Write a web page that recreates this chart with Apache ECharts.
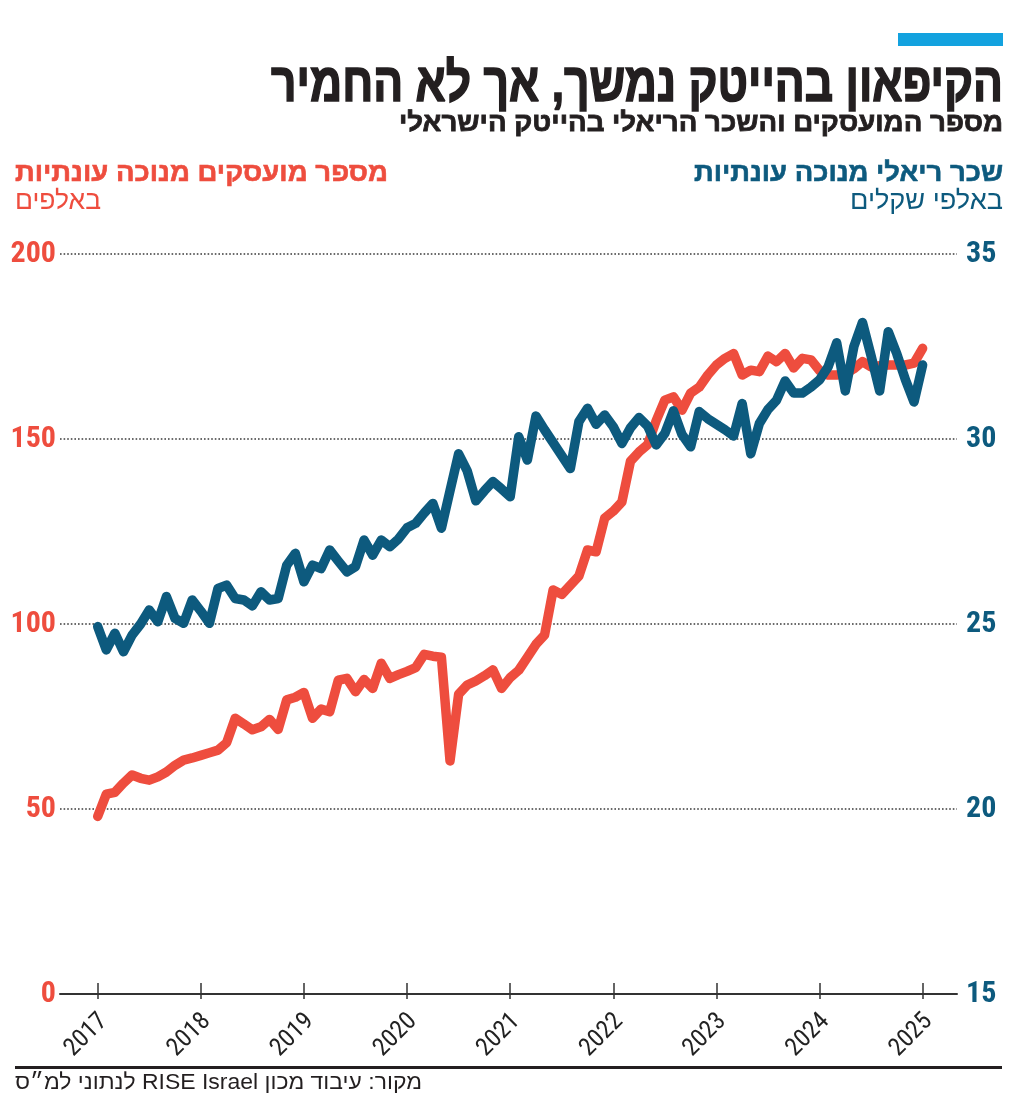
<!DOCTYPE html>
<html>
<head>
<meta charset="utf-8">
<script src="https://cdn.jsdelivr.net/npm/echarts@6/dist/echarts.min.js"></script>
<style>
  html, body { margin: 0; padding: 0; background: #ffffff; }
  #chart { width: 1024px; height: 1107px; }
</style>
</head>
<body>
<div id="chart"></div>
<script>
// ---------- data ----------
const startYear = 2017;
const tickYears = ['2017', '2018', '2019', '2020', '2021', '2022', '2023', '2024', '2025'];
// monthly, Jan 2017 .. Jan 2025 (seasonally adjusted)
const employees = [
  48, 54, 54.5, 57, 59.2, 58.3, 57.8, 58.7, 60, 61.8, 63.2, 63.8,
  64.5, 65.2, 65.9, 67.9, 74.5, 73, 71.4, 72.2, 74.2, 71.5, 79.5, 80.2,
  81.5, 74.5, 77, 76.3, 84.8, 85.3, 81.7, 85, 82.6, 89.4, 85.3, 86.3,
  87.2, 88.2, 91.8, 91.3, 91, 63, 81, 83.5, 84.6, 86, 87.6, 82.6,
  85.5, 87.5, 91, 94.5, 97, 109.2, 108, 110.5, 113, 120, 119.5, 128.6,
  130.5, 133, 144, 146.5, 148.5, 155, 160.5, 161.4, 157.8, 162.4, 164, 167.3,
  170, 171.8, 173.1, 167.3, 168.6, 168.2, 172.4, 170.9, 173.1, 169.2, 171.8, 171.4,
  168.5, 167.3, 167.3, 167.6, 169, 170.9, 169.5, 169.8, 170, 170, 170, 170.5,
  174.5
];
const wages = [
  24.93, 24.3, 24.75, 24.25, 24.7, 25.0, 25.38, 25.06, 25.74, 25.15, 25.02, 25.65,
  25.35, 25.02, 25.96, 26.05, 25.69, 25.65, 25.49, 25.87, 25.65, 25.69, 26.59, 26.91,
  26.14, 26.59, 26.5, 27.0, 26.7, 26.41, 26.55, 27.27, 26.86, 27.27, 27.09, 27.3,
  27.6, 27.72, 28.0, 28.26, 27.59, 28.6, 29.6, 29.14, 28.33, 28.6, 28.85, 28.65,
  28.44, 30.06, 29.43, 30.62, 30.25, 29.9, 29.55, 29.2, 30.47, 30.83, 30.4, 30.65,
  30.33, 29.88, 30.3, 30.58, 30.35, 29.84, 30.15, 30.76, 30.12, 29.79, 30.74, 30.55,
  30.4, 30.25, 30.08, 30.96, 29.6, 30.42, 30.8, 31.05, 31.57, 31.24, 31.24, 31.4,
  31.6, 31.95, 32.6, 31.3, 32.5, 33.15, 32.25, 31.3, 32.9, 32.3, 31.6, 31.0,
  32.0
];
const leftTicks = ['0', '50', '100', '150', '200'];
const rightTicks = ['15', '20', '25', '30', '35'];

const texts = {
  title: 'הקיפאון בהייטק נמשך, אך לא החמיר',
  subtitle: 'מספר המועסקים והשכר הריאלי בהייטק הישראלי',
  wageName: 'שכר ריאלי מנוכה עונתיות',
  wageUnit: 'באלפי שקלים',
  empName: 'מספר מועסקים מנוכה עונתיות',
  empUnit: 'באלפים',
  source: 'מקור: עיבוד מכון RISE Israel לנתוני למ״ס'
};

// ---------- helpers ----------
const RED = '#ee4d3e';
const BLUE = '#0d5a7e';
const HEB = "'Liberation Sans', 'DejaVu Sans', sans-serif";
const NARROW = "'Liberation Sans Narrow', 'Roboto Condensed', 'DejaVu Sans Condensed', sans-serif";
const rtl = s => '\u202B' + s + '\u202C';
const measureCtx = document.createElement('canvas').getContext('2d');
function fitScale(text, weight, size, family, width) {
  measureCtx.font = weight + ' ' + size + 'px ' + family;
  return width / measureCtx.measureText(text).width;
}
function hText(text, x, y, align, weight, size, color, width, stroke) {
  const t = rtl(text);
  const st = {
    text: t, fill: color, fontSize: size, fontWeight: weight, fontFamily: HEB,
    align: align, textAlign: align, verticalAlign: 'middle', textVerticalAlign: 'middle'
  };
  if (stroke) { st.stroke = color; st.lineWidth = stroke; }
  return {
    type: 'text', x: x, y: y, scaleX: fitScale(t, weight, size, HEB, width), silent: true,
    style: st
  };
}

const tickMonths = tickYears.map((y, i) => i * 12);
const empData = employees.map((v, i) => [i, v]);
const wageData = wages.map((v, i) => [i, v]);

const chart = echarts.init(document.getElementById('chart'), null, { renderer: 'canvas' });
chart.setOption({
  animation: false,
  backgroundColor: '#ffffff',
  grid: { left: 60, right: 67, top: 254, bottom: 113, containLabel: false },
  xAxis: [
    {
      type: 'value', min: -4.387, max: 100, position: 'bottom',
      axisLine: { show: true, onZero: false, lineStyle: { color: '#333333', width: 2 } },
      axisTick: { show: true, inside: true, length: 11, customValues: tickMonths,
                  lineStyle: { color: '#333333', width: 1.5 } },
      axisLabel: {
        show: true, customValues: tickMonths, rotate: 45, margin: 12,
        padding: [0, 4, 0, 0], verticalAlign: 'top',
        formatter: v => tickYears[Math.round(v / 12)],
        color: '#222222', fontSize: 25, fontFamily: NARROW
      },
      splitLine: { show: false }
    },
    {
      type: 'value', min: -4.387, max: 100, position: 'bottom', gridIndex: 0,
      axisLine: { show: false },
      axisTick: { show: true, inside: false, length: 5, customValues: tickMonths,
                  lineStyle: { color: '#333333', width: 1.5 } },
      axisLabel: { show: false },
      splitLine: { show: false }
    }
  ],
  yAxis: [
    {
      type: 'value', min: 0, max: 200, interval: 50, position: 'left',
      axisLine: { show: false }, axisTick: { show: false },
      axisLabel: {
        margin: 4, color: RED, fontSize: 30, fontWeight: 'bold', fontFamily: NARROW,
        formatter: v => leftTicks[Math.round(v / 50)]
      },
      splitLine: { show: true, lineStyle: { color: '#3a3a3a', width: 1.6, type: [1.6, 2] } }
    },
    {
      type: 'value', min: 15, max: 35, interval: 5, position: 'right',
      axisLine: { show: false }, axisTick: { show: false },
      axisLabel: {
        margin: 9, color: BLUE, fontSize: 30, fontWeight: 'bold', fontFamily: NARROW,
        formatter: v => rightTicks[Math.round((v - 15) / 5)]
      },
      splitLine: { show: false }
    }
  ],
  series: [
    {
      name: texts.empName, type: 'line', xAxisIndex: 0, yAxisIndex: 0, data: empData,
      showSymbol: false, symbol: 'none', smooth: false, silent: true,
      lineStyle: { color: RED, width: 9.5, cap: 'round', join: 'round' }
    },
    {
      name: texts.wageName, type: 'line', xAxisIndex: 0, yAxisIndex: 1, data: wageData,
      showSymbol: false, symbol: 'none', smooth: false, silent: true,
      lineStyle: { color: BLUE, width: 9.5, cap: 'round', join: 'round' }
    }
  ],
  graphic: [
    { type: 'rect', shape: { x: 898, y: 33, width: 105, height: 13 }, style: { fill: '#13a2df' }, silent: true },
    hText(texts.title, 1003, 86, 'right', 'bold', 54, '#231f20', 732, 1.6),
    hText(texts.subtitle, 1003, 124, 'right', 'bold', 26, '#231f20', 604, 0.8),
    hText(texts.wageName, 1003, 174, 'right', 'bold', 26, BLUE, 309, 0.6),
    hText(texts.wageUnit, 1003, 202, 'right', 'normal', 26, BLUE, 153),
    hText(texts.empName, 15, 174, 'left', 'bold', 26, RED, 373, 0.6),
    hText(texts.empUnit, 15, 202, 'left', 'normal', 26, RED, 86),
    { type: 'rect', shape: { x: 15, y: 1066, width: 987, height: 3 }, style: { fill: '#231f20' }, silent: true },
    hText(texts.source, 15, 1083, 'left', 'normal', 22, '#231f20', 407)
  ]
});
</script>
</body>
</html>
